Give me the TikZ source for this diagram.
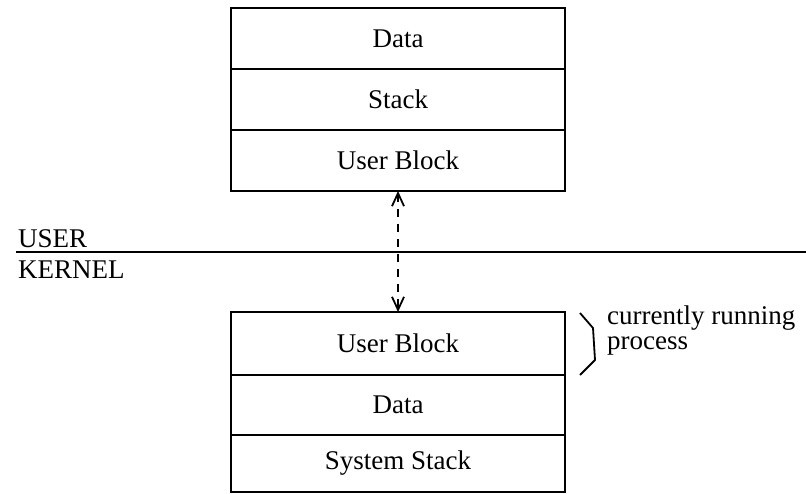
\documentclass[tikz,border=0pt]{standalone}
\usepackage{fontspec}
\setmainfont{Liberation Serif}
\usetikzlibrary{arrows.meta}
\begin{document}
\begin{tikzpicture}[x=1pt,y=-1pt,
  font=\fontsize{27}{25}\selectfont,
  row/.style={draw, line width=2pt, minimum width=334pt, inner sep=0pt, outer sep=0pt},
  lbl/.style={anchor=west, inner sep=0pt},
  barb/.tip={Straight Barb[length=13pt,width=12pt,line width=1.8pt]},
  link/.style={line width=1.8pt, dash pattern=on 8pt off 7pt, {barb}-{barb}}]
\useasboundingbox (0,0) rectangle (806,494);

% user-space segments
\node[row, minimum height=61pt] (d1) at (398,38.5) {Data};
\node[row, minimum height=61pt] (s1) at (398,99.5) {Stack};
\node[row, minimum height=61pt] (u1) at (398,160.5) {User Block};

% kernel-space segments
\node[row, minimum height=63pt] (u2) at (398,343.5) {User Block};
\node[row, minimum height=60pt] (d2) at (398,405) {Data};
\node[row, minimum height=57pt] (ss2) at (398,463.5) {System Stack};

% boundary between user and kernel mode
\coordinate (bl) at (16,252);
\coordinate (br) at (806,252);
\draw[line width=2.2pt] (bl) -- (br);
\node[lbl] (user) at (18,239) {USER};
\node[lbl] (kernel) at (18,270) {KERNEL};

% mapping between the two user blocks
\draw[link] (u1.south) -- (u2.north);

% brace marking the running process
\coordinate (b1) at (580,313);
\coordinate (b2) at (593,328);
\coordinate (b3) at (595,360);
\coordinate (b4) at (580,375);
\draw[line width=1.8pt, line join=round] (b1) -- (b2) -- (b3) -- (b4);
\node[anchor=north west, align=left, inner sep=0pt] (note) at (607,306)
  {currently running\\process};
\end{tikzpicture}
\end{document}
